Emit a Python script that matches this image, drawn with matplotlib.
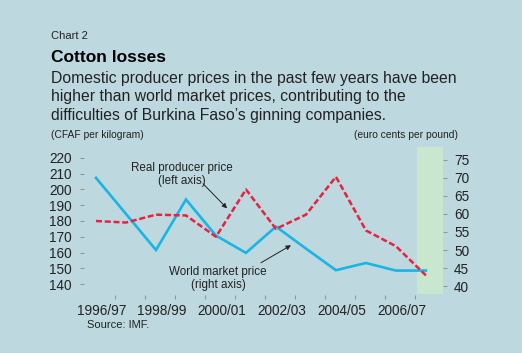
import matplotlib
matplotlib.use("Agg")
import matplotlib.pyplot as plt
import matplotlib.transforms as mtransforms
from matplotlib.patches import Rectangle

plt.rcParams["font.family"] = ["Liberation Sans", "DejaVu Sans"]

# data, one point per crop year 1996/97 .. 2007/08
years = ["1996/97", "1997/98", "1998/99", "1999/00", "2000/01", "2001/02",
         "2002/03", "2003/04", "2004/05", "2005/06", "2006/07", "2007/08"]
producer_price = [180, 179, 184, 183.5, 170, 200, 175, 184, 208, 174, 164, 145.5]   # CFAF per kg
world_price = [70, 60, 50, 64, 54, 49.2, 56.5, 50.4, 44.4, 46.4, 44.3, 44.3]          # euro cents per lb
label_years = ["1996/97", "1998/99", "2000/01", "2002/03", "2004/05", "2006/07"]

BG = "#bdd9df"
PLOT_BG = "#dbf1f5"
GREEN = "#c9e6cf"
BLUE = "#1ab4e5"
RED = "#e8213f"
TXT = "#222222"
TICK = "#8a9a9e"

W, H = 522, 353
fig = plt.figure(figsize=(W / 100, H / 100), dpi=100, facecolor=BG)


def fx(px):
    return px / W


def fy(py):
    return 1 - py / H


ax = fig.add_axes([fx(87), fy(294), fx(443) - fx(87), fy(153) - fy(294)])
ax2 = ax.twinx()

x = list(range(len(years)))

# left axis on top so the red line sits over the blue one
ax.set_zorder(ax2.get_zorder() + 1)
ax.patch.set_visible(False)
ax2.patch.set_facecolor(PLOT_BG)

ax.set_xlim(-0.3, 11.57)
ax.set_ylim(133.7, 223.1)
ax2.set_ylim(37.8, 76.9)

# projection shading
trans = mtransforms.blended_transform_factory(ax2.transData, ax2.transAxes)
ax2.add_patch(Rectangle((10.7, 0), 11.57 - 10.7, 1.043, transform=trans,
                        facecolor=GREEN, edgecolor="none", clip_on=False, zorder=0))

ax2.plot(x, world_price, color=BLUE, lw=1.9, solid_joinstyle="miter", zorder=3)
ax.plot(x, producer_price, color=RED, lw=1.8, linestyle=(0, (2.4, 1.1)), zorder=3)

for a in (ax, ax2):
    for s in a.spines.values():
        s.set_visible(False)

ax.spines["left"].set_position(("outward", 2))
ax2.spines["right"].set_position(("outward", 0))
ax.spines["bottom"].set_position(("outward", 1))

ax.set_yticks(range(140, 221, 10))
ax2.set_yticks(range(40, 76, 5))
ax.tick_params(axis="y", direction="out", length=3, width=0.8, color=TICK,
               labelsize=9.8, labelcolor=TXT, pad=6)
ax2.tick_params(axis="y", direction="out", length=3, width=0.8, color=TICK,
                labelsize=9.8, labelcolor=TXT, pad=5)

# tick marks between years, labels every second year
ax.set_xticks([i + 0.65 for i in range(11)])
ax.set_xticklabels([])
ax.set_xticks([years.index(y) + 0.2 for y in label_years], minor=True)
ax.set_xticklabels(label_years, minor=True)
ax.tick_params(axis="x", which="major", direction="out", length=3, width=0.8, color=TICK)
ax.tick_params(axis="x", which="minor", length=0, labelsize=9.8, labelcolor=TXT, pad=6)

arrow = dict(arrowstyle="-|>", color="#222222", lw=0.7, mutation_scale=7,
             shrinkA=0, shrinkB=0)
ax.text(2.87, 209.6, "Real producer price\n(left axis)", ha="center", va="center",
        fontsize=8.4, color=TXT, linespacing=1.1)
ax.annotate("", xy=(4.37, 188), xytext=(3.57, 203.6), arrowprops=arrow)
ax.text(4.07, 143.5, "World market price\n(right axis)", ha="center", va="center",
        fontsize=8.4, color=TXT, linespacing=1.1)
ax.annotate("", xy=(6.5, 164.6), xytext=(5.5, 153.5), arrowprops=arrow)

fig.text(fx(51), fy(39), "Chart 2", fontsize=8, color=TXT, va="baseline")
fig.text(fx(51), fy(62), "Cotton losses", fontsize=12.5, fontweight="bold",
         color="black", va="baseline")
subtitle = ["Domestic producer prices in the past few years have been",
            "higher than world market prices, contributing to the",
            "difficulties of Burkina Faso\u2019s ginning companies."]
for k, line in enumerate(subtitle):
    fig.text(fx(51), fy(83 + 18.5 * k), line, fontsize=11.35, color=TXT, va="baseline")
fig.text(fx(51), fy(138), "(CFAF per kilogram)", fontsize=7.4, color=TXT, va="baseline")
fig.text(fx(458), fy(138), "(euro cents per pound)", fontsize=7.4, color=TXT,
         va="baseline", ha="right")
fig.text(fx(87), fy(328), "Source: IMF.", fontsize=8, color=TXT, va="baseline")

fig.savefig("out.png", dpi=100, facecolor=BG)
